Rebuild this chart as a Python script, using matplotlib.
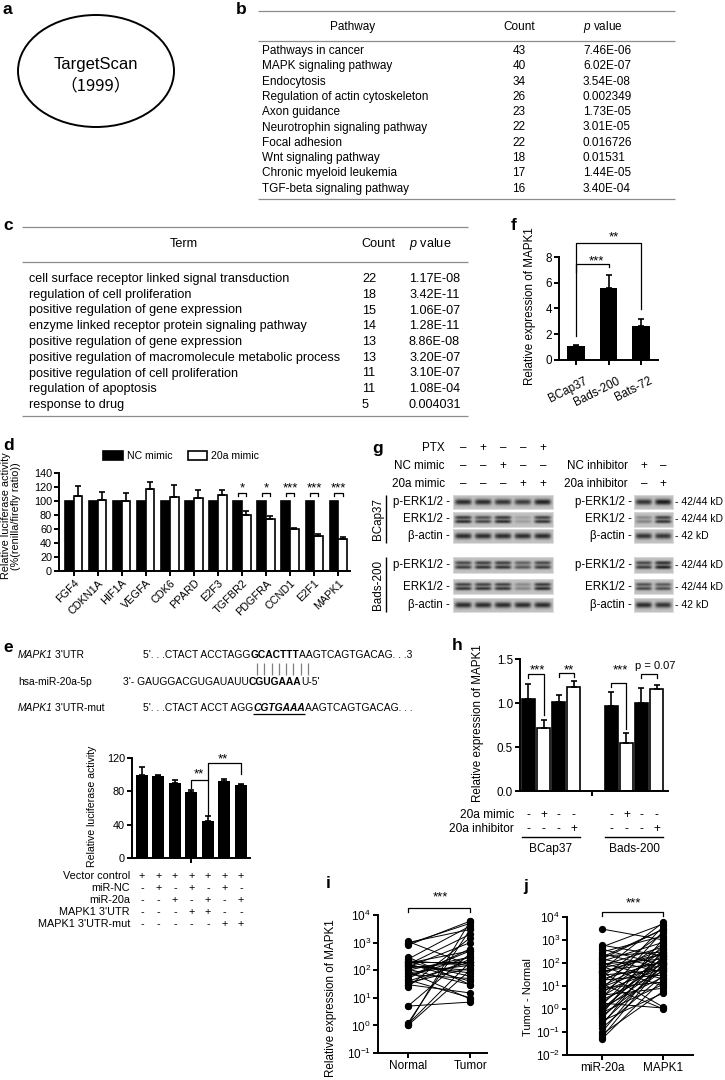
import numpy as np
import matplotlib
matplotlib.use('Agg')
import matplotlib.pyplot as plt
from matplotlib.patches import Ellipse, Rectangle
from matplotlib.transforms import blended_transform_factory as blend, ScaledTranslation

plt.rcParams['font.family'] = ['Liberation Sans', 'DejaVu Sans']
plt.rcParams['mathtext.fontset'] = 'custom'
plt.rcParams['mathtext.rm'] = 'Liberation Sans'
plt.rcParams['mathtext.it'] = 'Liberation Sans:italic'
plt.rcParams['mathtext.bf'] = 'Liberation Sans:bold'

# ---------------- data ----------------
b_pathways = ['Pathways in cancer', 'MAPK signaling pathway', 'Endocytosis',
              'Regulation of actin cytoskeleton', 'Axon guidance',
              'Neurotrophin signaling pathway', 'Focal adhesion',
              'Wnt signaling pathway', 'Chronic myeloid leukemia',
              'TGF-beta signaling pathway']
b_counts = [43, 40, 34, 26, 23, 22, 22, 18, 17, 16]
b_pvals = ['7.46E-06', '6.02E-07', '3.54E-08', '0.002349', '1.73E-05',
           '3.01E-05', '0.016726', '0.01531', '1.44E-05', '3.40E-04']

c_terms = ['cell surface receptor linked signal transduction',
           'regulation of cell proliferation',
           'positive regulation of gene expression',
           'enzyme linked receptor protein signaling pathway',
           'positive regulation of gene expression',
           'positive regulation of macromolecule metabolic process',
           'positive regulation of cell proliferation',
           'regulation of apoptosis', 'response to drug']
c_counts = [22, 18, 15, 14, 13, 13, 11, 11, 5]
c_pvals = ['1.17E-08', '3.42E-11', '1.06E-07', '1.28E-11', '8.86E-08',
           '3.20E-07', '3.10E-07', '1.08E-04', '0.004031']

d_genes = ['FGF4', 'CDKN1A', 'HIF1A', 'VEGFA', 'CDK6', 'PPARD', 'E2F3',
           'TGFBR2', 'PDGFRA', 'CCND1', 'E2F1', 'MAPK1']
d_nc = [100, 100, 100, 100, 100, 100, 100, 100, 100, 100, 100, 100]
d_mimic = [107, 102, 100, 117, 105, 104, 109, 80, 74, 60, 50, 46]
d_mimic_err = [14, 11, 11, 10, 18, 11, 6, 5, 5, 2, 3, 2]
d_sig = {'TGFBR2': '*', 'PDGFRA': '*', 'CCND1': '***', 'E2F1': '***', 'MAPK1': '***'}

e_vals = [100, 98, 90, 79, 44, 92, 88]
e_errs = [9, 2, 4, 3, 7, 3, 1]
e_rows = ['Vector control', 'miR-NC', 'miR-20a', "MAPK1 3'UTR", "MAPK1 3'UTR-mut"]
e_signs = ['+++++++', '-+-+-+-', '--+-+-+', '---++--', '-----++']

f_cells = ['BCap37', 'Bads-200', 'Bats-72']
f_vals = [1.1, 5.6, 2.65]
f_errs = [0.08, 1.0, 0.55]

g_rows = ['PTX', 'NC mimic', '20a mimic']
g_signs = ['-+--+', '--+--', '---++']
g_rows_r = ['NC inhibitor', '20a inhibitor']
g_signs_r = ['+-', '-+']
g_blot_rows = ['p-ERK1/2', 'ERK1/2', '\u03b2-actin']
g_kd = ['42/44 kD', '42/44 kD', '42 kD']
# band darkness per lane (0 = none, 1 = black)
bcap_left = [[0.85, 0.85, 0.80, 0.75, 0.90],
             [0.85, 0.70, 0.85, 0.20, 0.80],
             [0.85, 0.85, 0.85, 0.85, 0.85]]
bcap_right = [[0.80, 0.95], [0.35, 0.80], [0.80, 0.80]]
bads_left = [[0.75, 0.80, 0.80, 0.60, 0.75],
             [0.80, 0.80, 0.80, 0.35, 0.85],
             [0.85, 0.85, 0.85, 0.85, 0.85]]
bads_right = [[0.75, 0.90], [0.70, 0.65], [0.85, 0.80]]

h_vals = [1.05, 0.72, 1.01, 1.18, 0.97, 0.54, 1.00, 1.16]
h_errs = [0.17, 0.09, 0.08, 0.07, 0.16, 0.12, 0.17, 0.05]
h_groups = ['BCap37', 'Bads-200']
h_rows = ['20a mimic', '20a inhibitor']
h_signs = ['-+--', '---+']
h_sig = ['***', '**', '***', 'p = 0.07']

i_normal = [1000, 900, 1100, 800, 300, 250, 220, 200, 180, 160, 150, 130,
            120, 100, 90, 80, 70, 60, 50, 45, 40, 35, 30, 25, 5, 5, 1.2,
            1.1, 1.0, 1.0, 200, 170, 140, 110, 60, 30]
i_tumor = [3000, 5000, 150, 6000, 30, 4000, 150, 200, 500, 2000, 80, 1000,
           200, 300, 9, 150, 50, 300, 600, 10, 200, 120, 250, 1500, 7, 400,
           3000, 200, 6000, 100, 60, 40, 100, 30, 500, 15]

j_mir = [3000, 600, 500, 400, 300, 250, 200, 180, 150, 120, 100, 90, 80, 70,
         60, 50, 45, 40, 35, 30, 25, 20, 18, 15, 12, 10, 9, 8, 7, 6, 5, 4,
         3.5, 3, 2.5, 2, 1.8, 1.5, 1.2, 1, 0.9, 0.8, 0.7, 0.6, 0.5, 0.4, 0.3,
         0.25, 0.2, 0.15, 0.1, 0.08, 0.06, 0.05, 150, 40]
j_mapk = [1000, 200, 5000, 80, 1500, 60, 300, 3000, 40, 800, 20, 150, 500,
          10, 250, 6000, 100, 1.2, 400, 50, 2000, 120, 30, 700, 1, 200, 90,
          15, 4000, 60, 350, 8, 150, 2500, 45, 100, 1.1, 600, 25, 180, 70,
          300, 12, 1200, 50, 200, 5, 80, 400, 30, 150, 6, 100, 20, 3000, 250]

# ---------------- figure ----------------
W, H = 725, 1080
fig = plt.figure(figsize=(W / 100, H / 100), dpi=100)
ov = fig.add_axes([0, 0, 1, 1])
ov.set_xlim(0, W)
ov.set_ylim(H, 0)
ov.axis('off')
renderer = fig.canvas.get_renderer()
STAR = 9.5


def axpx(l, t, r, b):
    return fig.add_axes([l / W, 1 - b / H, (r - l) / W, (b - t) / H])


def T(x, y, s, size=7.5, ha='left', va='center', **kw):
    return ov.text(x, y, s, fontsize=size, ha=ha, va=va, **kw)


def L(xs, ys, lw=0.8, color='k', **kw):
    ov.plot(xs, ys, color=color, lw=lw, solid_capstyle='butt', **kw)


def label(x, y, s):
    T(x, y, s, size=12.5, weight='bold')


def style(ax, fs=7.5):
    for s in ['top', 'right']:
        ax.spines[s].set_visible(False)
    for s in ['left', 'bottom']:
        ax.spines[s].set_linewidth(1.4)
    ax.tick_params(width=1.4, length=3.5, labelsize=fs, pad=1.5)
    ax.patch.set_alpha(0)


def star(ax, xd, yc_px, s, size=STAR):
    # horizontal position from the axis data, glyph centre at yc_px
    tr = blend(ax.transData, ov.transData)
    if s.startswith('p'):
        ov.text(xd, yc_px, s, transform=tr, ha='center', va='center', fontsize=8)
    else:
        ov.text(xd, yc_px + 0.58 * size * 100 / 72, s, transform=tr,
                ha='center', va='baseline', fontsize=size)


def seq(x, y, parts, size=7.4):
    for s, kw in parts:
        kw = dict(kw)
        ul = kw.pop('ul', False)
        t = T(x, y, s, size=size, **kw)
        w = t.get_window_extent(renderer).width
        if ul:
            L([x, x + w], [y + 5.5, y + 5.5], lw=0.9)
        x += w
    return x


# ---------------- a ----------------
label(3, 9, 'a')
ov.add_patch(Ellipse((96, 71), 156, 112, fill=False, ec='k', lw=1.4))
T(96, 64, 'TargetScan', size=12, ha='center')
T(96, 86, '\uff081999\uff09', size=12, ha='center',
  family=['Noto Sans CJK SC', 'Liberation Sans', 'DejaVu Sans'])

# ---------------- b ----------------
label(236, 9, 'b')
bx0, bx1 = 258, 675
L([bx0, bx1], [11, 11], color='0.55', lw=0.9)
T(353, 27, 'Pathway', ha='center', size=8.5)
T(519, 27, 'Count', ha='center', size=8.5)
T(583, 27, '$p$ value', size=8.5)
L([bx0, bx1], [41, 41], color='0.55', lw=0.9)
for k, (pw, cnt, pv) in enumerate(zip(b_pathways, b_counts, b_pvals)):
    y = 51 + 15.3 * k
    T(262, y, pw, size=8.5)
    T(519, y, str(cnt), ha='center', size=8.5)
    T(583, y, pv, size=8.5)
L([bx0, bx1], [199, 199], color='0.55', lw=0.9)

# ---------------- c ----------------
label(3, 226, 'c')
cx0, cx1 = 22, 468
L([cx0, cx1], [227, 227], color='0.55', lw=0.9)
T(184, 244, 'Term', ha='center', size=9.1)
T(361, 244, 'Count', size=9.1)
T(409, 244, '$p$ value', size=9.1)
L([cx0, cx1], [262, 262], color='0.55', lw=0.9)
for k, (tm, cnt, pv) in enumerate(zip(c_terms, c_counts, c_pvals)):
    y = 279 + 15.75 * k
    T(29, y, tm, size=9.1)
    T(362, y, str(cnt), size=9.1)
    T(409, y, pv, size=9.1)
L([cx0, cx1], [416, 416], color='0.55', lw=0.9)

# ---------------- d ----------------
label(3, 446, 'd')
ov.add_patch(Rectangle((103, 451), 20, 9, fc='k', ec='k', lw=1.2))
T(127, 456, 'NC mimic', size=7.6)
ov.add_patch(Rectangle((188, 451), 19, 9, fc='w', ec='k', lw=1.2))
T(211, 456, '20a mimic', size=7.6)
axd = axpx(59, 473, 350, 571)
xd = np.arange(len(d_genes))
axd.bar(xd - 0.18, d_nc, 0.36, color='k', edgecolor='k', lw=1.2)
axd.bar(xd + 0.18, d_mimic, 0.36, color='w', edgecolor='k', lw=1.2)
axd.errorbar(xd + 0.18, d_mimic, yerr=[np.zeros(len(xd)), d_mimic_err],
             fmt='none', ecolor='k', elinewidth=1.2, capsize=2.5, capthick=1.2)
axd.set_xlim(-0.61, 11.49)
axd.set_ylim(0, 140)
axd.set_yticks(range(0, 141, 20))
axd.set_xticks(xd)
axd.set_xticklabels(d_genes, rotation=45, ha='right', rotation_mode='anchor',
                    fontsize=8)
style(axd, fs=7.8)
for g, s in d_sig.items():
    i = d_genes.index(g)
    axd.plot([i - 0.18, i - 0.18, i + 0.18, i + 0.18], [107, 111, 111, 107],
             color='k', lw=0.9, clip_on=False)
    star(axd, i, 484, s)
T(11, 516, 'Relative luciferase activity\n(%(renilla/firefly ratio))',
  ha='center', rotation=90, size=7.8, multialignment='center', linespacing=1.1)

# ---------------- e ----------------
label(3, 647, 'e')
seq(18, 655, [('MAPK1', dict(style='italic')), ("\u20093'UTR", dict())])
seq(143, 655, [("5'. . .CTACT ACCTAGG", {}), ('GCACTTT', dict(weight='bold')),
               ('AAGTCAGTGACAG. . .3', {})])
for xb in np.linspace(257, 308, 8):
    L([xb, xb], [663, 675], color='0.5', lw=0.9)
T(18, 682, 'hsa-miR-20a-5p', size=7.4)
seq(123, 682, [("3'- GAUGGACGUGAUAUU", {}), ('CGUGAAA', dict(weight='bold')),
               ("U-5'", {})])
seq(18, 708, [('MAPK1', dict(style='italic')), ("\u20093'UTR-mut", dict())])
seq(143, 708, [("5'. . .CTACT ACCT AGG", {}),
               ('CGTGAAA', dict(weight='bold', style='italic', ul=True)),
               ('AAGTCAGTGACAG. . .', {})])

axe = axpx(132, 758, 250, 858)
xe = np.arange(len(e_vals))
axe.bar(xe, e_vals, 0.72, color='k')
axe.errorbar(xe, e_vals, yerr=[np.zeros(len(xe)), e_errs], fmt='none',
             ecolor='k', elinewidth=1.2, capsize=2.5, capthick=1.2)
axe.set_xlim(-0.6, 6.55)
axe.set_ylim(0, 120)
axe.set_yticks([0, 40, 80, 120])
axe.set_xticks([3])
axe.set_xticklabels([''])
style(axe, fs=7.8)
axe.plot([3, 3, 4, 4], [84, 94, 94, 50], color='k', lw=0.9, clip_on=False)
axe.plot([4, 4, 6, 6], [94, 114, 114, 101], color='k', lw=0.9, clip_on=False)
star(axe, 3.45, 770, '**')
star(axe, 4.9, 755, '**')
T(92, 806, 'Relative luciferase activity', ha='center', rotation=90, size=7.6)
tre = blend(axe.transData, ov.transData)
for r, (name, sg) in enumerate(zip(e_rows, e_signs)):
    y = 876 + 12 * r
    T(130, y, name, ha='right', size=7.8)
    for k, ch in enumerate(sg):
        ov.text(k, y, ch, transform=tre, ha='center', va='center', fontsize=7.8)

# ---------------- f ----------------
label(511, 226, 'f')
axf = axpx(559, 257, 658, 360)
xf = np.arange(len(f_cells))
axf.bar(xf, f_vals, 0.53, color='k')
axf.errorbar(xf, f_vals, yerr=[np.zeros(len(xf)), f_errs], fmt='none',
             ecolor='k', elinewidth=1.2, capsize=2.5, capthick=1.2)
axf.set_xlim(-0.52, 2.52)
axf.set_ylim(0, 8)
axf.set_yticks([0, 2, 4, 6, 8])
axf.set_xticks(xf)
axf.set_xticklabels(f_cells, rotation=27, ha='right', rotation_mode='anchor')
style(axf, fs=8.4)
for lbl in axf.get_xticklabels():
    lbl.set_transform(lbl.get_transform() + ScaledTranslation(0.08, -0.08, fig.dpi_scale_trans))
axf.plot([0, 0, 2, 2], [1.9, 9.1, 9.1, 3.95], color='k', lw=0.9, clip_on=False)
axf.plot([0, 0, 1, 1], [6.8, 7.46, 7.46, 7.2], color='k', lw=0.9, clip_on=False)
star(axf, 0.62, 257, '***')
star(axf, 1.15, 233, '**')
T(530, 306, 'Relative expression of MAPK1', ha='center', rotation=90, size=8.4)

# ---------------- g ----------------
label(372, 448, 'g')
gx = [463, 483, 503, 523, 543]
for r, (name, sg) in enumerate(zip(g_rows, g_signs)):
    y = 448 + 18 * r
    T(445, y, name, ha='right', size=8.4)
    for k, ch in enumerate(sg):
        T(gx[k], y, '\u2013' if ch == '-' else '+', ha='center', size=8.4)
gxr = [644, 663]
for r, (name, sg) in enumerate(zip(g_rows_r, g_signs_r)):
    y = 466 + 18 * r
    T(628, y, name, ha='right', size=8.4)
    for k, ch in enumerate(sg):
        T(gxr[k], y, '\u2013' if ch == '-' else '+', ha='center', size=8.4)


def blot(x0, x1, y0, y1, intens, doublet=False):
    n = len(intens)
    nx, ny = 120, 30
    xs = np.linspace(0, n, nx)
    ys = np.linspace(-1, 1, ny)
    if doublet:
        prof = np.exp(-((ys - 0.28) / 0.24) ** 2) + 0.9 * np.exp(-((ys + 0.28) / 0.24) ** 2)
    else:
        prof = np.exp(-(ys / 0.42) ** 2)
    img = np.zeros((ny, nx))
    for j, v in enumerate(intens):
        lane = np.exp(-((xs - (j + 0.5)) / 0.42) ** 6)
        img += v * np.outer(prof, lane)
    gray = 0.76 - 0.7 * np.clip(img, 0, 1)
    ov.imshow(gray, cmap='gray', vmin=0, vmax=1, extent=(x0, x1, y1, y0),
              aspect='auto', interpolation='bilinear', zorder=2)
    ov.add_patch(Rectangle((x0, y0), x1 - x0, y1 - y0, fill=False, ec='0.85', lw=0.6, zorder=3))


def blot_set(ys, left, right, dbl):
    for r, (y0, y1) in enumerate(ys):
        yc = (y0 + y1) / 2
        blot(453, 553, y0, y1, left[r], dbl[r])
        blot(634, 673, y0, y1, right[r], dbl[r])
        T(450, yc, g_blot_rows[r] + ' -', ha='right', size=8.3)
        T(632, yc, g_blot_rows[r] + ' -', ha='right', size=8.3)
        T(675, yc, '- ' + g_kd[r], size=7.5)


bcap_y = [(495, 509), (512, 527), (529, 543)]
bads_y = [(557, 573), (579, 594), (598, 612)]
blot_set(bcap_y, bcap_left, bcap_right, [False, True, False])
blot_set(bads_y, bads_left, bads_right, [True, True, False])
T(378, 519, 'BCap37', ha='center', rotation=90, size=8.4)
L([386, 386], [495, 543], lw=1.0)
T(378, 585, 'Bads-200', ha='center', rotation=90, size=8.4)
L([386, 386], [557, 612], lw=1.0)

# ---------------- h ----------------
label(452, 645, 'h')
axh = axpx(520, 659, 668, 791)
hx = [0, 1, 2, 3, 5.5, 6.5, 7.5, 8.5]
hcol = ['k', 'w'] * 4
axh.bar(hx, h_vals, 0.85, color=hcol, edgecolor='k', lw=1.2)
axh.errorbar(hx, h_vals, yerr=[np.zeros(len(hx)), h_errs], fmt='none',
             ecolor='k', elinewidth=1.2, capsize=2.5, capthick=1.2)
axh.set_xlim(-0.56, 9.26)
axh.set_ylim(0, 1.5)
axh.set_yticks([0, 0.5, 1.0, 1.5])
axh.set_yticklabels(['0.0', '0.5', '1.0', '1.5'])
axh.set_xticks([4.25])
axh.set_xticklabels([''])
style(axh, fs=8.4)
br = [([0, 0, 1, 1], [1.28, 1.33, 1.33, 0.86]),
      ([2, 2, 3, 3], [1.29, 1.34, 1.34, 1.30]),
      ([5.5, 5.5, 6.5, 6.5], [1.18, 1.23, 1.23, 0.70]),
      ([7.5, 7.5, 8.5, 8.5], [1.28, 1.33, 1.33, 1.28])]
h_star_x = [0.6, 2.7, 6.1, 8.4]
for (bx, by), s, sx in zip(br, h_sig, h_star_x):
    axh.plot(bx, by, color='k', lw=0.9, clip_on=False)
    star(axh, sx, 666, s)
T(478, 723, 'Relative expression of MAPK1', ha='center', rotation=90, size=8.4)
trh = blend(axh.transData, ov.transData)
for r, (name, sg) in enumerate(zip(h_rows, h_signs)):
    y = 815 + 14 * r
    T(514, y, name, ha='right', size=8.6)
    for gi in range(2):
        for k, ch in enumerate(sg):
            ov.text(hx[4 * gi + k], y, ch, transform=trh, ha='center',
                    va='center', fontsize=8.6)
for gi, gname in enumerate(h_groups):
    ov.plot([hx[4 * gi] - 0.4, hx[4 * gi + 3] + 0.4], [837, 837], color='k',
            lw=1.0, transform=trh)
    ov.text((hx[4 * gi] + hx[4 * gi + 3]) / 2, 849, gname, transform=trh,
            ha='center', va='center', fontsize=8.6)

# ---------------- i ----------------
label(326, 883, 'i')
axi = axpx(378, 915, 487, 1053)
for a, b in zip(i_normal, i_tumor):
    axi.plot([0, 1], [a, b], color='k', lw=0.7, clip_on=False)
axi.plot(np.zeros(len(i_normal)), i_normal, 'o', color='k', ms=4.2, clip_on=False)
axi.plot(np.ones(len(i_tumor)), i_tumor, 'o', color='k', ms=4.2, clip_on=False)
axi.set_yscale('log')
axi.set_ylim(0.1, 1e4)
axi.set_yticks([0.1, 1, 10, 100, 1000, 10000])
axi.minorticks_off()
axi.set_xlim(-0.48, 1.27)
axi.set_xticks([0, 1])
axi.set_xticklabels(['Normal', 'Tumor'], fontsize=8.7)
style(axi, fs=8.5)
axi.plot([0, 0, 1, 1], [1.3e4, 1.8e4, 1.8e4, 1.3e4], color='k', lw=0.9, clip_on=False)
star(axi, 0.52, 893, '***')
T(331, 998, 'Relative expression of MAPK1', ha='center', rotation=90, size=8.4)

# ---------------- j ----------------
label(523, 887, 'j')
axj = axpx(567, 917, 693, 1055)
for a, b in zip(j_mir, j_mapk):
    axj.plot([0, 1], [a, b], color='k', lw=0.7, clip_on=False)
axj.plot(np.zeros(len(j_mir)), j_mir, 'o', color='k', ms=4.2, clip_on=False)
axj.plot(np.ones(len(j_mapk)), j_mapk, 'o', color='k', ms=4.2, clip_on=False)
axj.set_yscale('log')
axj.set_ylim(1e-2, 1e4)
axj.set_yticks([1e-2, 0.1, 1, 10, 100, 1000, 10000])
axj.minorticks_off()
axj.set_xlim(-0.57, 1.48)
axj.set_xticks([0, 1])
axj.set_xticklabels(['miR-20a', 'MAPK1'], fontsize=8.7)
style(axj, fs=8.5)
axj.plot([0, 0, 1, 1], [1.15e4, 1.6e4, 1.6e4, 1.15e4], color='k', lw=0.9, clip_on=False)
star(axj, 0.51, 899, '***')
T(528, 997, 'Tumor - Normal', ha='center', rotation=90, size=8)

fig.savefig('out.png', dpi=100)
